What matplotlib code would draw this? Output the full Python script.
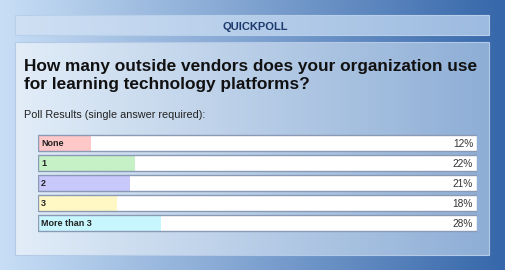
import numpy as np
import matplotlib
matplotlib.use("Agg")
from matplotlib import pyplot as plt, patches as mpatches, colors as mcolors

header = "QUICKPOLL"
question = ["How many outside vendors does your organization use",
            "for learning technology platforms?"]
subtitle = "Poll Results (single answer required):"
answers = ["None", "1", "2", "3", "More than 3"]
percents = [12, 22, 21, 18, 28]
fill_colors = ["#ffc8c8", "#c6f0c6", "#c8c8fc", "#fff8c4", "#c8f6ff"]

W, H = 505, 270
plt.rcParams["font.family"] = ["Liberation Sans", "DejaVu Sans"]

fig = plt.figure(figsize=(W / 100, H / 100), dpi=100)
bg = fig.add_axes([0, 0, 1, 1])
bg.set_xlim(0, W)
bg.set_ylim(H, 0)
bg.axis("off")


def hgrad(c_left, c_right, n=256):
    a = np.array(mcolors.to_rgb(c_left))
    b = np.array(mcolors.to_rgb(c_right))
    t = np.linspace(0, 1, n)[None, :, None]
    return a + (b - a) * t


# background gradient
bg.imshow(hgrad("#c8def6", "#3667aa"), extent=(0, W, H, 0), aspect="auto", zorder=0)

# header strip
bg.imshow(hgrad("#cfe0f4", "#9dbbe0"), extent=(15, 489, 35, 15), aspect="auto", zorder=1)
bg.add_patch(mpatches.Rectangle((15, 15), 474, 20, fill=False, ec="#b8cfea", lw=0.8, zorder=2))
bg.text(255, 29.5, header, ha="center", va="baseline", fontsize=8, fontweight="bold", color="#1c3a6c", zorder=3)

# main panel
bg.imshow(hgrad("#e2edf8", "#8eaed6"), extent=(15, 489, 255, 42), aspect="auto", zorder=1)
bg.add_patch(mpatches.Rectangle((15, 42), 474, 213, fill=False, ec="#b4cae6", lw=0.8, zorder=2))

for k, line in enumerate(question):
    bg.text(24, 70.5 + 19 * k, line, ha="left", va="baseline", fontsize=12.45, fontweight="bold",
            color="#111111", zorder=3)
bg.text(24, 118.5, subtitle, ha="left", va="baseline", fontsize=7.8, color="#222222", zorder=3)

# bars
x0, x1 = 38, 477
y_top, y_bot = 133, 233
ax = fig.add_axes([x0 / W, 1 - y_bot / H, (x1 - x0) / W, (y_bot - y_top) / H])
ax.set_xlim(0, 100)
ax.set_ylim(len(answers) - 0.5, -0.5)
ax.axis("off")

ypos = np.arange(len(answers))
ax.barh(ypos, [100] * len(answers), height=0.8, left=0, color="white", edgecolor="none", zorder=1)
ax.barh(ypos, percents, height=0.8, left=0, color=fill_colors, edgecolor="none", zorder=2)
ax.barh(ypos, [100] * len(answers), height=0.8, left=0, color="none", edgecolor="#8a9ab4", lw=1, zorder=3)

for i, (lab, p) in enumerate(zip(answers, percents)):
    ax.text(0.7, i, lab, ha="left", va="center_baseline", fontsize=6.5, fontweight="bold", color="#222222", zorder=4)
    ax.text(99.1, i, f"{p}%", ha="right", va="center_baseline", fontsize=7.3, color="#333333", zorder=4)

fig.savefig("out.png", dpi=100)
